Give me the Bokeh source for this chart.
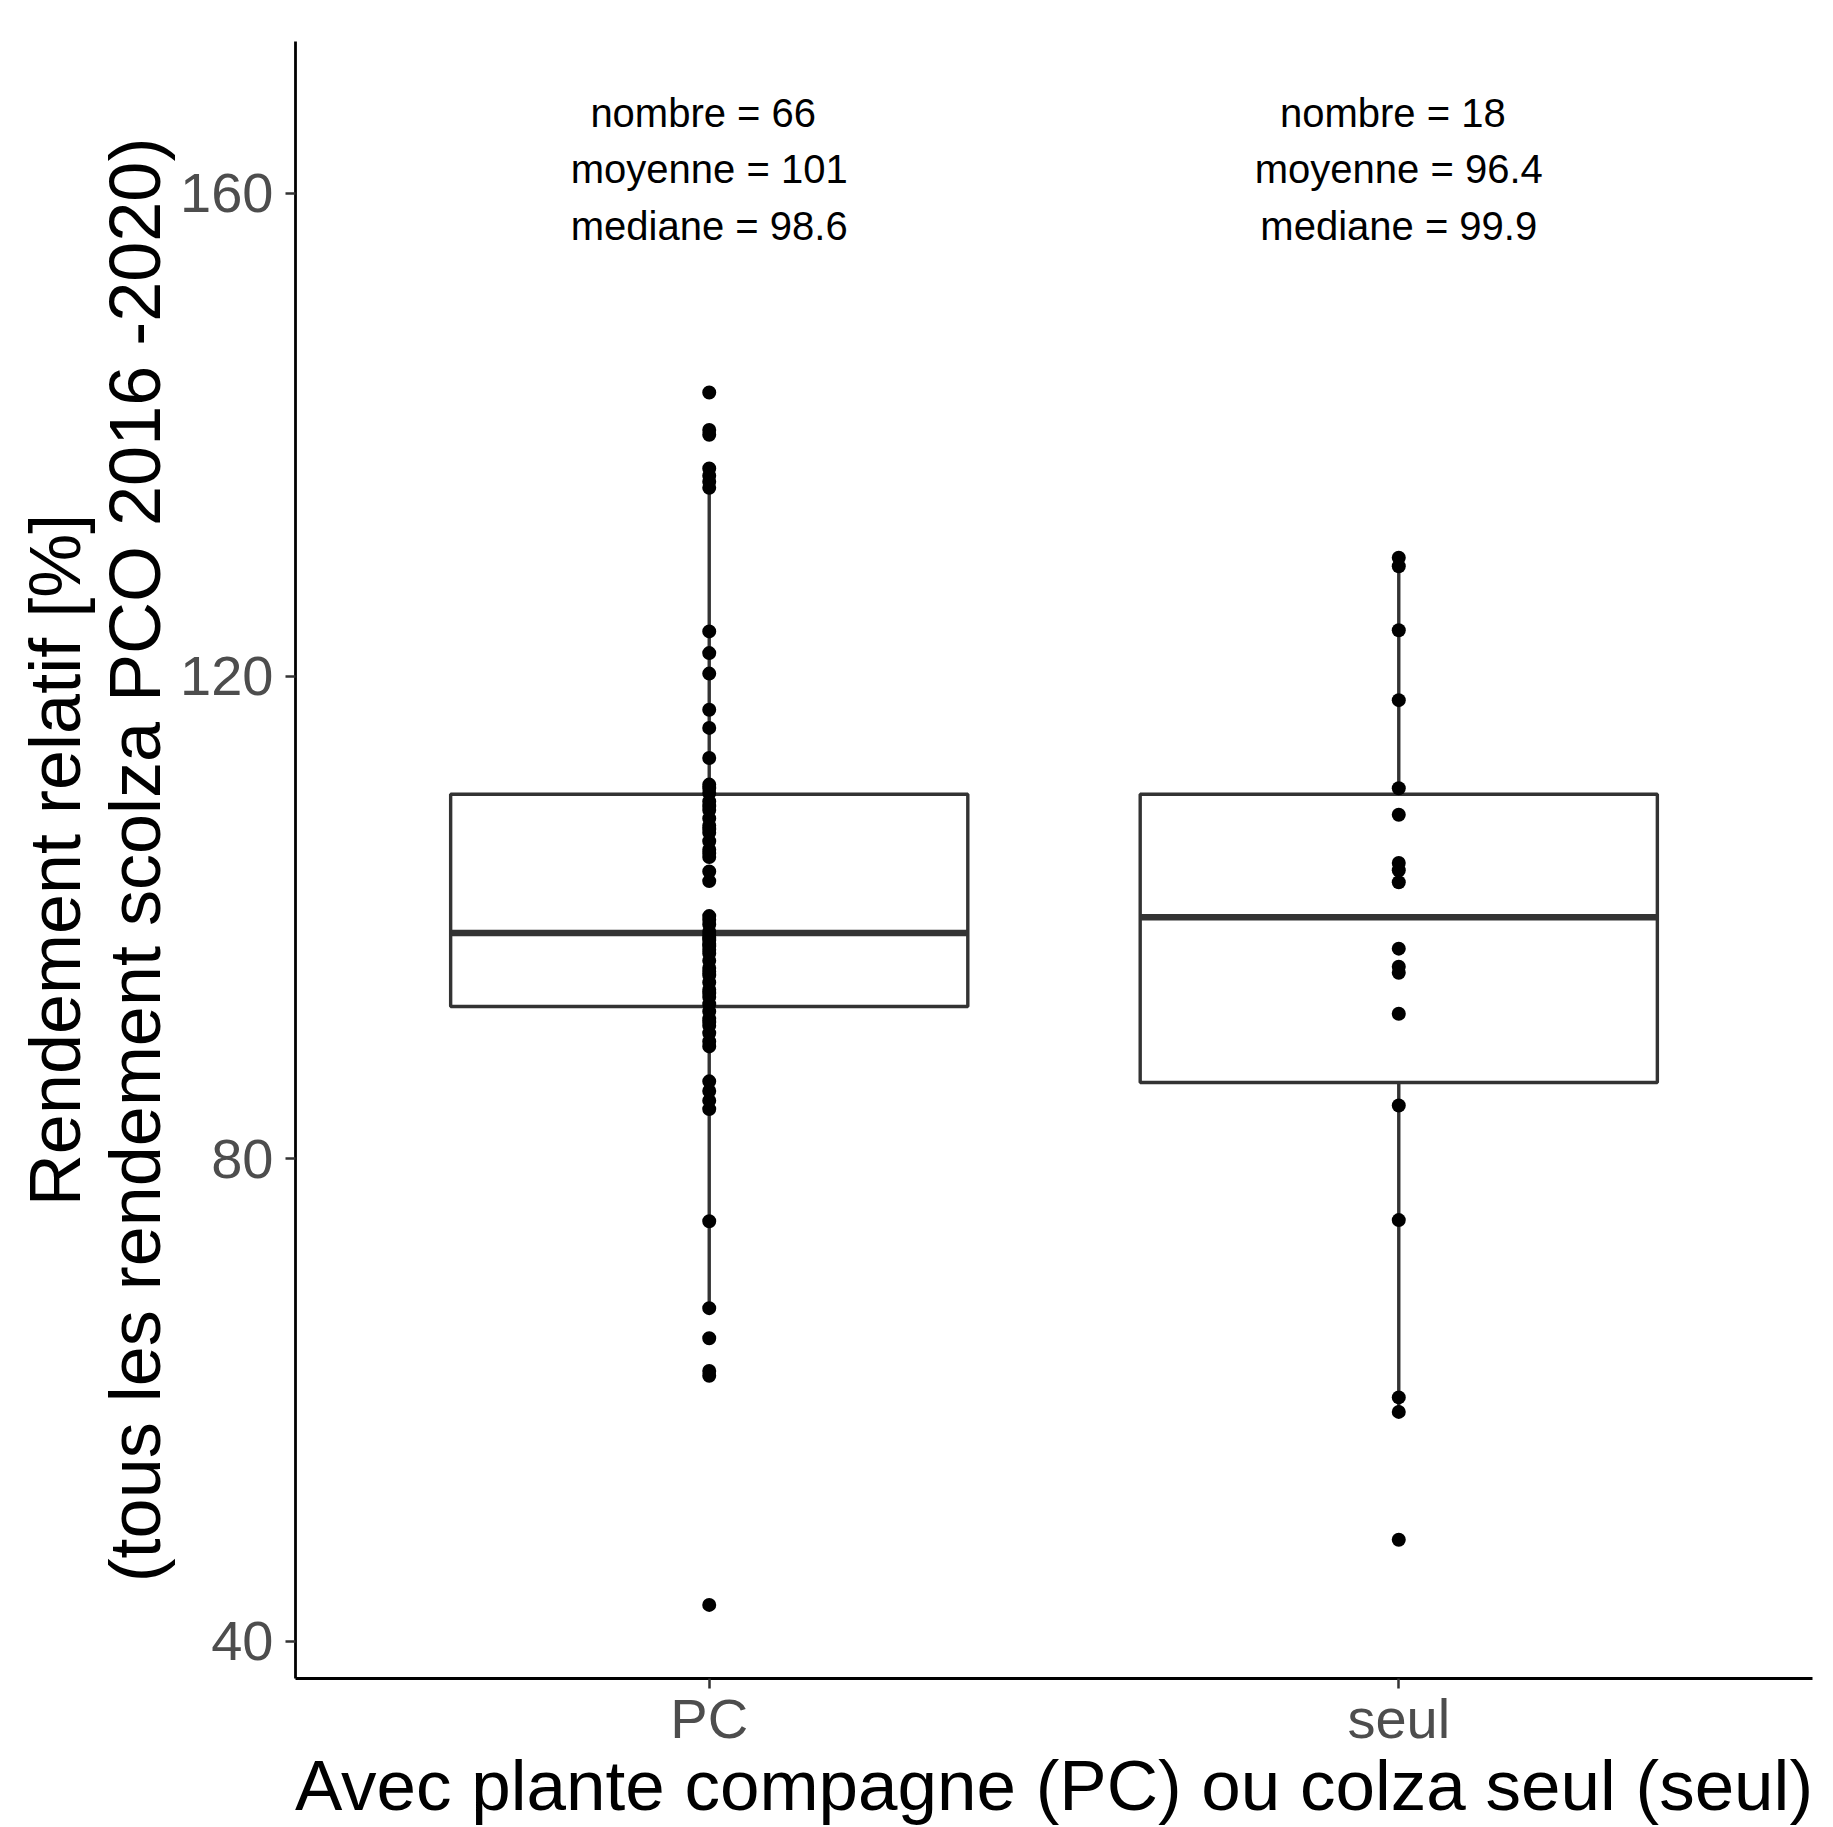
import numpy as np
from bokeh.plotting import figure
from bokeh.models import ColumnDataSource, FixedTicker, Range1d
from bokeh.embed import file_html
from bokeh.resources import INLINE
from bokeh.core.properties import value

# ---------------- data ----------------
categories = ["PC", "seul"]
cat_pos = [1, 2]

pc_values = [143.5, 140.4, 140.0, 137.2, 136.6, 136.1, 135.6,
             123.7, 121.9, 120.2, 117.2, 115.7, 113.2,
             111.0, 110.7, 110.3, 109.6, 109.2, 108.9, 108.2, 107.6, 107.3,
             107.0, 106.3, 105.6, 105.3, 105.0,
             103.8, 103.0, 98.3, 97.8,
             100.1, 99.8, 99.4, 98.8, 98.5, 98.1, 97.6, 97.3, 97.0, 96.4,
             95.8, 95.5, 95.2, 94.6, 94.0, 93.7, 93.4, 92.8, 92.2, 91.6,
             91.3, 91.0, 90.4, 89.7, 89.3,
             86.4, 85.6, 84.8, 84.1,
             74.8, 67.6, 65.1, 62.4, 62.0, 43.0]
seul_values = [129.8, 129.1, 123.8, 118.0, 110.7, 108.5, 104.5, 103.9, 102.9,
               97.4, 95.9, 95.4, 92.0, 84.4, 74.9, 60.2, 59.0, 48.4]

box_q1 = [92.6, 86.3]
box_median = [98.7, 100.0]
box_q3 = [110.2, 110.2]
whisker_low = [67.6, 59.0]
whisker_high = [135.6, 129.8]

n_obs = [66, 18]
mean_txt = ["101", "96.4"]
median_txt = ["98.6", "99.9"]

y_ticks = [40, 80, 120, 160]

# ---------------- style ----------------
FONT = "Liberation Sans"
BOX_HALF = 0.375
LINE_COL = "#333333"
LABEL_TOP = 166.7
LABEL_STEP = 4.7
LINE_XOFF = [-6, 0, 0]

p = figure(width=1825, height=1827, output_backend="svg", toolbar_location=None,
           x_range=Range1d(0.4, 2.6), y_range=Range1d(36.9, 172.6),
           min_border_left=295, min_border_right=13, min_border_top=41,
           min_border_bottom=130)
p.outline_line_color = None
p.xgrid.grid_line_color = None
p.ygrid.grid_line_color = None
p.background_fill_color = "white"
p.border_fill_color = "white"

# boxes
box_src = ColumnDataSource(dict(
    x=cat_pos,
    left=[c - BOX_HALF for c in cat_pos],
    right=[c + BOX_HALF for c in cat_pos],
    q1=box_q1, q3=box_q3, med=box_median,
    wlo=whisker_low, whi=whisker_high,
))
p.segment(x0="x", x1="x", y0="q3", y1="whi", source=box_src,
          line_color=LINE_COL, line_width=3.4)
p.segment(x0="x", x1="x", y0="q1", y1="wlo", source=box_src,
          line_color=LINE_COL, line_width=3.4)
p.quad(left="left", right="right", bottom="q1", top="q3", source=box_src,
       fill_color="white", line_color=LINE_COL, line_width=3.4)
p.segment(x0="left", x1="right", y0="med", y1="med", source=box_src,
          line_color=LINE_COL, line_width=6.5)

# points
pts_x = [cat_pos[0]] * len(pc_values) + [cat_pos[1]] * len(seul_values)
pts_y = pc_values + seul_values
p.scatter(x=pts_x, y=pts_y, size=14, fill_color="black", line_color=None)

# annotation texts
lines_x, lines_y, lines_t, lines_off = [], [], [], []
for i, c in enumerate(cat_pos):
    texts = [f"nombre = {n_obs[i]}", f"moyenne = {mean_txt[i]}",
             f"mediane = {median_txt[i]}"]
    for j, t in enumerate(texts):
        lines_x.append(c)
        lines_y.append(LABEL_TOP - j * LABEL_STEP)
        lines_t.append(t)
        lines_off.append(LINE_XOFF[j])
txt_src = ColumnDataSource(dict(x=lines_x, y=lines_y, text=lines_t, xoff=lines_off))
p.text(x="x", y="y", text="text", x_offset="xoff", source=txt_src,
       text_align="center", text_baseline="middle", text_font=value(FONT),
       text_font_size="40px", text_color="black")

# axes
for ax in (p.xaxis[0], p.yaxis[0]):
    ax.axis_line_color = "black"
    ax.axis_line_width = 2.8
    ax.major_tick_line_color = LINE_COL
    ax.major_tick_line_width = 2.5
    ax.major_tick_out = 10
    ax.major_tick_in = 0
    ax.minor_tick_line_color = None
    ax.major_label_text_font = FONT
    ax.major_label_text_font_size = "56px"
    ax.major_label_text_color = "#4D4D4D"
    ax.major_label_text_line_height = 1.0
    ax.axis_label_text_font = FONT
    ax.axis_label_text_font_style = "normal"
    ax.axis_label_text_color = "black"
    ax.axis_label_text_line_height = 1.0

p.xaxis.ticker = FixedTicker(ticks=cat_pos)
p.xaxis.major_label_overrides = {c: lab for c, lab in zip(cat_pos, categories)}
p.xaxis.axis_label = "Avec plante compagne (PC) ou colza seul (seul)"
p.xaxis.axis_label_text_font_size = "71px"
p.xaxis.major_label_standoff = -2
p.xaxis.axis_label_standoff = -7

p.yaxis.ticker = FixedTicker(ticks=y_ticks)
p.yaxis.axis_label = "Rendement relatif [%]\n(tous les rendement scolza PCO 2016 -2020)"
p.yaxis.axis_label_text_font_size = "72px"
p.yaxis.major_label_standoff = 12
p.yaxis.axis_label_standoff = 2

open("out.html", "w").write(file_html(p, INLINE))
